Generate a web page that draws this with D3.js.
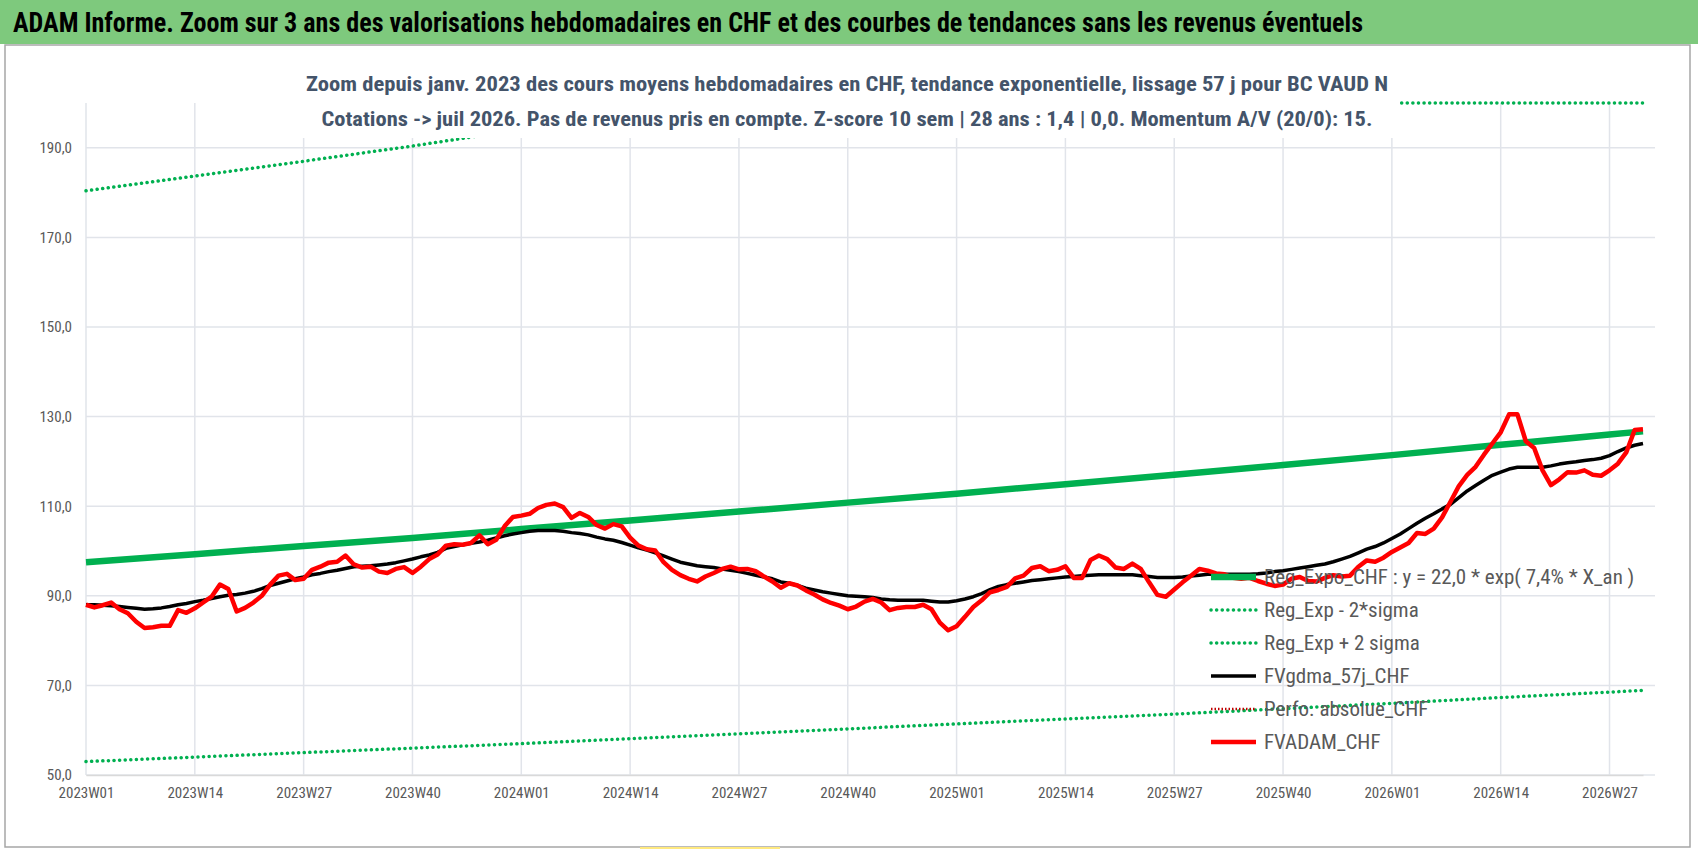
<!DOCTYPE html>
<html>
<head>
<meta charset="utf-8">
<script src="https://cdn.jsdelivr.net/npm/d3@7"></script>
<style>
  body { margin: 0; background: #fff; }
  text { font-family: "Liberation Sans Narrow", "Roboto Condensed", "Arial Narrow", sans-serif; }
</style>
</head>
<body>
<div class="chart"></div>
<script>
// weekly index 0 = 2023W01
const tickLabels = ["2023W01","2023W14","2023W27","2023W40","2024W01","2024W14","2024W27","2024W40",
  "2025W01","2025W14","2025W27","2025W40","2026W01","2026W14","2026W27"];
const tickIdx = [0,13,26,39,52,65,78,91,104,117,130,143,156,169,182];

// trend lines, read at the tick weeks plus the last week
const trendIdx = [0,13,26,39,52,65,78,91,104,117,130,143,156,169,182,186];
const regExpo = [97.5,99.3,101.1,102.9,104.9,106.8,108.8,110.8,112.8,114.9,117.0,119.2,121.4,123.7,126.0,126.7];
const regLow = [53.0,54.0,55.0,56.0,57.0,58.1,59.2,60.3,61.4,62.5,63.6,64.8,66.0,67.3,68.5,68.9];
const regHigh = [180.4,183.7,187.0,190.4,194.1,197.6,201.3,205,208.7,212.6,216.5,220.5,224.6,228.8,233.1,234.4];

const fvadam = [
  88.0,87.4,87.9,88.5,87.0,86.1,84.2,82.8,83.0,83.3,
  83.3,86.8,86.2,87.2,88.5,89.8,92.5,91.5,86.5,87.3,
  88.5,90.0,92.5,94.5,94.9,93.5,93.8,95.8,96.5,97.4,
  97.6,99.0,97.0,96.3,96.5,95.4,95.1,96.0,96.4,95.1,
  96.5,98.2,99.2,101.2,101.5,101.4,101.8,103.5,101.5,102.5,
  105.5,107.6,107.9,108.3,109.6,110.3,110.6,109.8,107.4,108.5,
  107.6,105.8,105.0,106.0,105.5,103.0,101.2,100.4,100.1,97.5,
  95.8,94.6,93.8,93.2,94.3,95.1,96.0,96.5,95.9,96.0,
  95.5,94.3,93.2,91.8,92.8,92.3,91.2,90.3,89.2,88.4,
  87.8,87.0,87.6,88.7,89.3,88.5,86.8,87.3,87.5,87.5,
  88.0,87.0,84.0,82.3,83.2,85.3,87.5,89.0,90.8,91.3,
  92.0,93.9,94.5,96.2,96.6,95.5,95.8,96.6,94.0,94.0,
  98.0,99.0,98.2,96.3,96.0,97.2,96.0,93.0,90.2,89.8,
  91.4,93.0,94.5,96.0,95.6,95.0,94.8,94.0,93.8,94.0,
  93.3,92.7,92.2,92.5,93.8,94.2,93.3,93.2,94.0,94.6,
  94.3,94.5,96.5,97.9,97.6,98.5,99.8,100.8,101.8,104.0,
  103.8,105.0,107.5,111.0,114.5,117.0,118.8,121.5,124.0,126.5,
  130.5,130.5,124.5,123.0,118.0,114.7,116.0,117.6,117.5,118.0,
  117.0,116.8,118.0,119.5,122.0,127.0,127.2];

const fvgdma = [
  88.0,88.0,87.9,87.8,87.6,87.4,87.2,87.0,87.1,87.3,
  87.6,88.0,88.3,88.7,89.0,89.4,89.8,90.1,90.3,90.6,
  91.0,91.6,92.3,92.8,93.3,93.8,94.2,94.7,95.0,95.4,
  95.7,96.1,96.5,96.6,96.7,96.9,97.1,97.4,97.8,98.2,
  98.7,99.1,99.7,100.6,101.0,101.4,101.7,102.0,102.4,102.9,
  103.4,103.8,104.1,104.4,104.6,104.6,104.6,104.4,104.1,103.9,
  103.6,103.1,102.7,102.4,101.9,101.3,100.7,100.2,99.6,98.9,
  98.2,97.5,97.1,96.7,96.5,96.3,96.0,95.7,95.4,95.0,
  94.6,94.2,93.8,93.1,92.8,92.3,91.7,91.3,90.9,90.6,
  90.3,90.0,89.9,89.8,89.6,89.3,89.1,89.0,89.0,89.0,
  89.0,88.8,88.6,88.6,88.9,89.3,89.8,90.5,91.4,92.1,
  92.5,92.8,93.1,93.4,93.6,93.8,94.0,94.2,94.3,94.5,
  94.6,94.7,94.7,94.7,94.7,94.7,94.5,94.3,94.1,94.1,
  94.1,94.2,94.4,94.6,94.8,94.8,94.8,94.8,94.8,94.8,
  94.9,95.1,95.4,95.6,95.9,96.2,96.5,96.8,97.1,97.6,
  98.2,98.8,99.6,100.4,101.0,101.8,102.8,103.8,105.0,106.2,
  107.3,108.3,109.4,110.4,111.9,113.4,114.6,115.8,116.9,117.6,
  118.3,118.7,118.7,118.7,118.7,119.0,119.4,119.7,119.9,120.2,
  120.4,120.7,121.3,122.2,123.0,123.6,124.0];

const yTicks = [50,70,90,110,130,150,170,190];

const W = 1698, H = 856;
const svg = d3.select(".chart").append("svg").attr("width", W).attr("height", H);

// title bar
svg.append("rect").attr("x", 0).attr("y", 0).attr("width", W).attr("height", 44).attr("fill", "#7ec97d");
svg.append("text").attr("x", 13).attr("y", 32).attr("font-size", 27).attr("font-weight", "bold")
  .attr("textLength", 1350).attr("lengthAdjust", "spacingAndGlyphs")
  .text("ADAM Informe. Zoom sur 3 ans des valorisations hebdomadaires en CHF et des courbes de tendances sans les revenus éventuels");

// frame
svg.append("rect").attr("x", 5).attr("y", 45).attr("width", 1685).attr("height", 802)
  .attr("fill", "none").attr("stroke", "#a6a6a6").attr("stroke-width", 1.5);

const x = d3.scaleLinear().domain([0, 186]).range([86, 1643]);
const y = d3.scaleLinear().domain([50, 200]).range([775, 103]);

// grid
svg.append("g").selectAll("line").data(yTicks).join("line")
  .attr("x1", 86).attr("x2", 1655).attr("y1", d => y(d)).attr("y2", d => y(d))
  .attr("stroke", "#e1e4ea").attr("stroke-width", 1.5);
svg.append("g").selectAll("line").data(tickIdx).join("line")
  .attr("x1", d => x(d)).attr("x2", d => x(d)).attr("y1", y(200)).attr("y2", y(50))
  .attr("stroke", "#e1e4ea").attr("stroke-width", 1.5);

// axes
const yAxis = svg.append("g").attr("transform", "translate(86,0)")
  .call(d3.axisLeft(y).tickValues(yTicks).tickSize(0).tickPadding(14)
    .tickFormat(d => d3.format(".1f")(d).replace(".", ",")));
yAxis.select(".domain").remove();
yAxis.selectAll("text").attr("font-size", 15).attr("fill", "#595959");

const xAxis = svg.append("g").attr("transform", "translate(0," + y(50) + ")")
  .call(d3.axisBottom(x).tickValues(tickIdx).tickSize(0).tickPadding(12)
    .tickFormat((d, i) => tickLabels[i]));
xAxis.select(".domain").attr("stroke", "#d9d9d9").attr("stroke-width", 1.5);
xAxis.selectAll("text").attr("font-size", 15).attr("fill", "#595959");

// clip to plot
svg.append("clipPath").attr("id", "plot").append("rect")
  .attr("x", 80).attr("y", y(200) - 2).attr("width", 1590).attr("height", y(50) - y(200) + 4);
const g = svg.append("g").attr("clip-path", "url(#plot)");

const trendLine = arr => d3.line().x((d, i) => x(trendIdx[i])).y(d => y(Math.min(d, 200)))(arr);
const weekLine = d3.line().x((d, i) => x(i)).y(d => y(d));

g.append("path").attr("d", trendLine(regLow)).attr("fill", "none").attr("stroke", "#00b050")
  .attr("stroke-width", 3.5).attr("stroke-dasharray", "0.1,5.5").attr("stroke-linecap", "round");
g.append("path").attr("d", trendLine(regHigh)).attr("fill", "none").attr("stroke", "#00b050")
  .attr("stroke-width", 3.5).attr("stroke-dasharray", "0.1,5.5").attr("stroke-linecap", "round");
g.append("path").attr("d", trendLine(regExpo)).attr("fill", "none").attr("stroke", "#00b050").attr("stroke-width", 6.5);
g.append("path").attr("d", weekLine(fvgdma)).attr("fill", "none").attr("stroke", "#000").attr("stroke-width", 3.5)
  .attr("stroke-linejoin", "round");
g.append("path").attr("d", weekLine(fvadam)).attr("fill", "none").attr("stroke", "#ff0000").attr("stroke-width", 4.5)
  .attr("stroke-linejoin", "round");

// subtitle with white background
svg.append("rect").attr("x", 300).attr("y", 64).attr("width", 1100).attr("height", 74).attr("fill", "#fff");
const sub = ["Zoom depuis janv. 2023 des cours moyens hebdomadaires en CHF, tendance exponentielle, lissage 57 j pour BC VAUD N",
  "Cotations -> juil 2026.  Pas de revenus pris en compte. Z-score 10 sem | 28 ans : 1,4 | 0,0. Momentum A/V (20/0): 15."];
const subLen = [1082, 1051];
sub.forEach((t, i) => svg.append("text").attr("x", 847).attr("y", 91 + i * 35).attr("text-anchor", "middle")
  .attr("font-size", 20).attr("font-weight", "bold").attr("fill", "#44546a")
  .attr("textLength", subLen[i]).attr("lengthAdjust", "spacingAndGlyphs").text(t));

// legend
const legend = [
  { name: "Reg_Expo_CHF : y = 22,0 * exp( 7,4% *  X_an )", color: "#00b050", w: 6.5, dash: null },
  { name: "Reg_Exp - 2*sigma", color: "#00b050", w: 3.5, dash: "0.1,5.5" },
  { name: "Reg_Exp + 2 sigma", color: "#00b050", w: 3.5, dash: "0.1,5.5" },
  { name: "FVgdma_57j_CHF", color: "#000", w: 3.5, dash: null },
  { name: "Perfo. absolue_CHF", color: "#c00000", w: 2.5, dash: "1.5,2" },
  { name: "FVADAM_CHF", color: "#ff0000", w: 4.5, dash: null }
];
const lg = svg.append("g").selectAll("g").data(legend).join("g")
  .attr("transform", (d, i) => "translate(1211," + (577 + i * 33) + ")");
lg.append("line").attr("x1", 0).attr("x2", 45).attr("stroke", d => d.color).attr("stroke-width", d => d.w)
  .attr("stroke-dasharray", d => d.dash).attr("stroke-linecap", d => d.dash && d.w > 3 ? "round" : "butt");
lg.append("text").attr("x", 53).attr("y", 7).attr("font-size", 21).attr("fill", "#595959").text(d => d.name);

// small yellow mark on bottom frame
svg.append("line").attr("x1", 640).attr("x2", 780).attr("y1", 848).attr("y2", 848)
  .attr("stroke", "#ffe97f").attr("stroke-width", 2);
</script>
</body>
</html>
